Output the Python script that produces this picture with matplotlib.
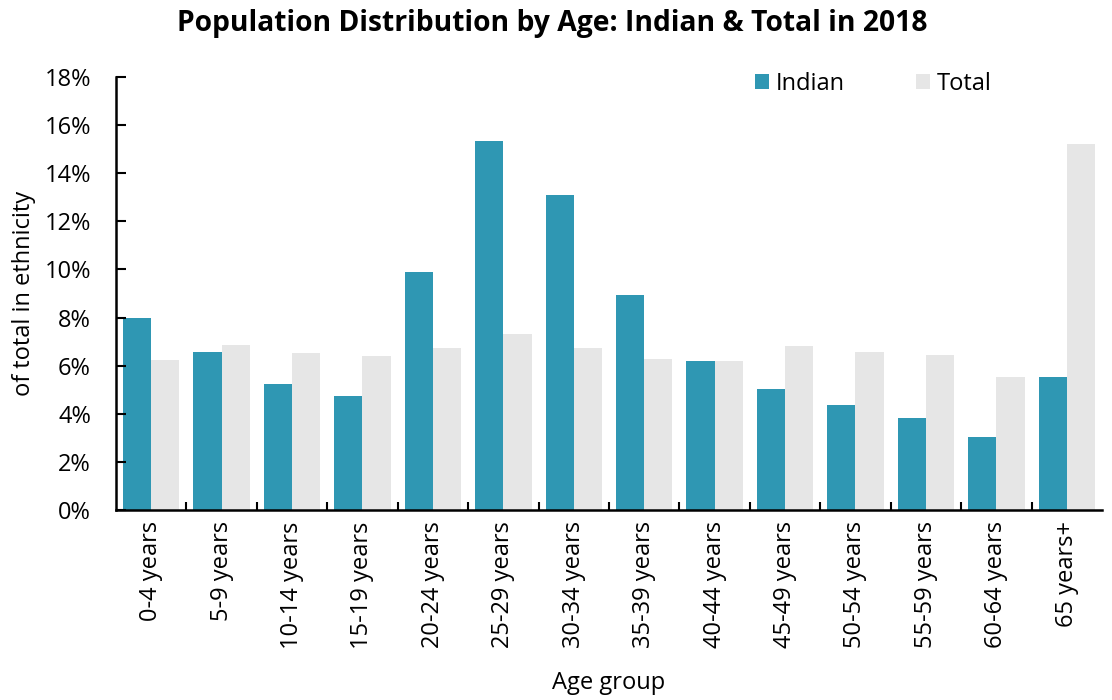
import numpy as np
import matplotlib.pyplot as plt

plt.rcParams['font.family'] = ['Open Sans', 'DejaVu Sans']

age_groups = ['0-4 years', '5-9 years', '10-14 years', '15-19 years', '20-24 years',
              '25-29 years', '30-34 years', '35-39 years', '40-44 years', '45-49 years',
              '50-54 years', '55-59 years', '60-64 years', '65 years+']
indian = [8.0, 6.57, 5.24, 4.74, 9.89, 15.36, 13.1, 8.94, 6.2, 5.03, 4.36, 3.83, 3.04, 5.53]
total = [6.25, 6.84, 6.52, 6.41, 6.74, 7.32, 6.74, 6.28, 6.19, 6.83, 6.57, 6.44, 5.54, 15.22]

fig = plt.figure(figsize=(11.12, 7), dpi=100)
ax = fig.add_axes([0.1043, 0.2714, 0.8867, 0.6186])

x = np.arange(len(age_groups))
w = 0.4
ax.bar(x - w / 2, indian, width=w, color='#2F97B3', label='Indian')
ax.bar(x + w / 2, total, width=w, color='#E6E6E6', label='Total')

ax.set_xlim(-0.5, len(age_groups) - 0.5)
ax.set_ylim(0, 18)
ax.set_yticks(np.arange(0, 19, 2))
ax.set_yticklabels([f'{v}%' for v in range(0, 19, 2)])

# category labels centred, tick marks at group boundaries
ax.set_xticks(x)
ax.set_xticklabels(age_groups, rotation=90)
ax.set_xticks(np.arange(0.5, len(age_groups) - 0.5, 1), minor=True)
ax.tick_params(axis='x', which='major', length=0, labelsize=17, pad=8)
ax.tick_params(axis='x', which='minor', direction='in', length=6, width=1.5)
ax.tick_params(axis='y', direction='in', length=7, width=1.5, labelsize=17, pad=18)

for s in ['top', 'right']:
    ax.spines[s].set_visible(False)
for s in ['left', 'bottom']:
    ax.spines[s].set_linewidth(1.8)

ax.set_xlabel('Age group', fontsize=17, labelpad=16)
ax.set_ylabel('of total in ethnicity', fontsize=17, labelpad=6)
fig.suptitle('Population Distribution by Age: Indian & Total in 2018',
             x=0.497, y=0.987, fontsize=20.3, fontweight='bold')

ax.legend(loc='upper right', bbox_to_anchor=(0.91, 1.06), ncol=2, frameon=False,
          fontsize=17, handlelength=0.6, handleheight=0.6, handletextpad=0.3,
          columnspacing=3.0)

plt.savefig('out.png', dpi=100)
